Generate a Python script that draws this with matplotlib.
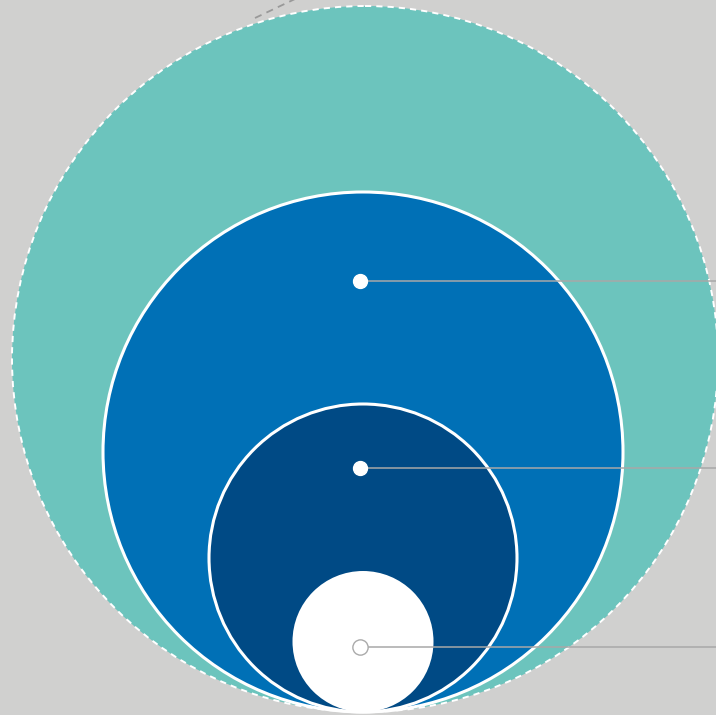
import matplotlib
matplotlib.use("Agg")
import matplotlib.pyplot as plt
from matplotlib.patches import Circle

# Nested bubble data (radius in chart units), all tangent at the bottom
categories = ["Total", "Segment A", "Segment B", "Segment C"]
radii = [353, 260, 154, 70.5]
colors = ["#6cc4bd", "#0070b6", "#004a85", "#ffffff"]
# label anchor heights (chart units from top)
label_y = [281, 468, 647]

W, H = 716, 715
fig = plt.figure(figsize=(W / 100, H / 100), dpi=100)
fig.patch.set_facecolor("#d0d0cf")
ax = fig.add_axes([0, 0, 1, 1])
ax.set_xlim(0, W)
ax.set_ylim(H, 0)
ax.set_facecolor("#d0d0cf")
ax.axis("off")

cx = 363
bottom = 712

# dashed leader at top-left (from outer bubble)
ax.plot([255, 295], [18, -1], color="#999999", lw=1.3, ls=(0, (4, 3)), zorder=1)

for i, (r, c) in enumerate(zip(radii, colors)):
    cy = bottom - r
    if i == 0:
        ax.add_patch(Circle((cx + 2, cy), r, facecolor=c, edgecolor="none", zorder=2))
        ax.add_patch(Circle((cx + 2, cy), r, facecolor="none", edgecolor="white",
                            lw=1.4, ls=(0, (3.2, 2.6)), zorder=3))
    else:
        ax.add_patch(Circle((cx, cy), r, facecolor=c, edgecolor="white" if i < 3 else "none",
                            lw=2.2, zorder=2 + i * 2))

dot_x = 360
for j, ly in enumerate(label_y):
    z = 20
    ax.plot([dot_x, W + 5], [ly, ly], color="#a8a8a8", lw=1.1, zorder=z)
    ec = "white" if j < 2 else "#aaaaaa"
    ax.plot([dot_x], [ly], marker="o", ms=10 if j < 2 else 11, mfc="white",
            mec=ec, mew=1.0, zorder=z + 1)

fig.savefig("out.png", dpi=100, facecolor=fig.get_facecolor())
